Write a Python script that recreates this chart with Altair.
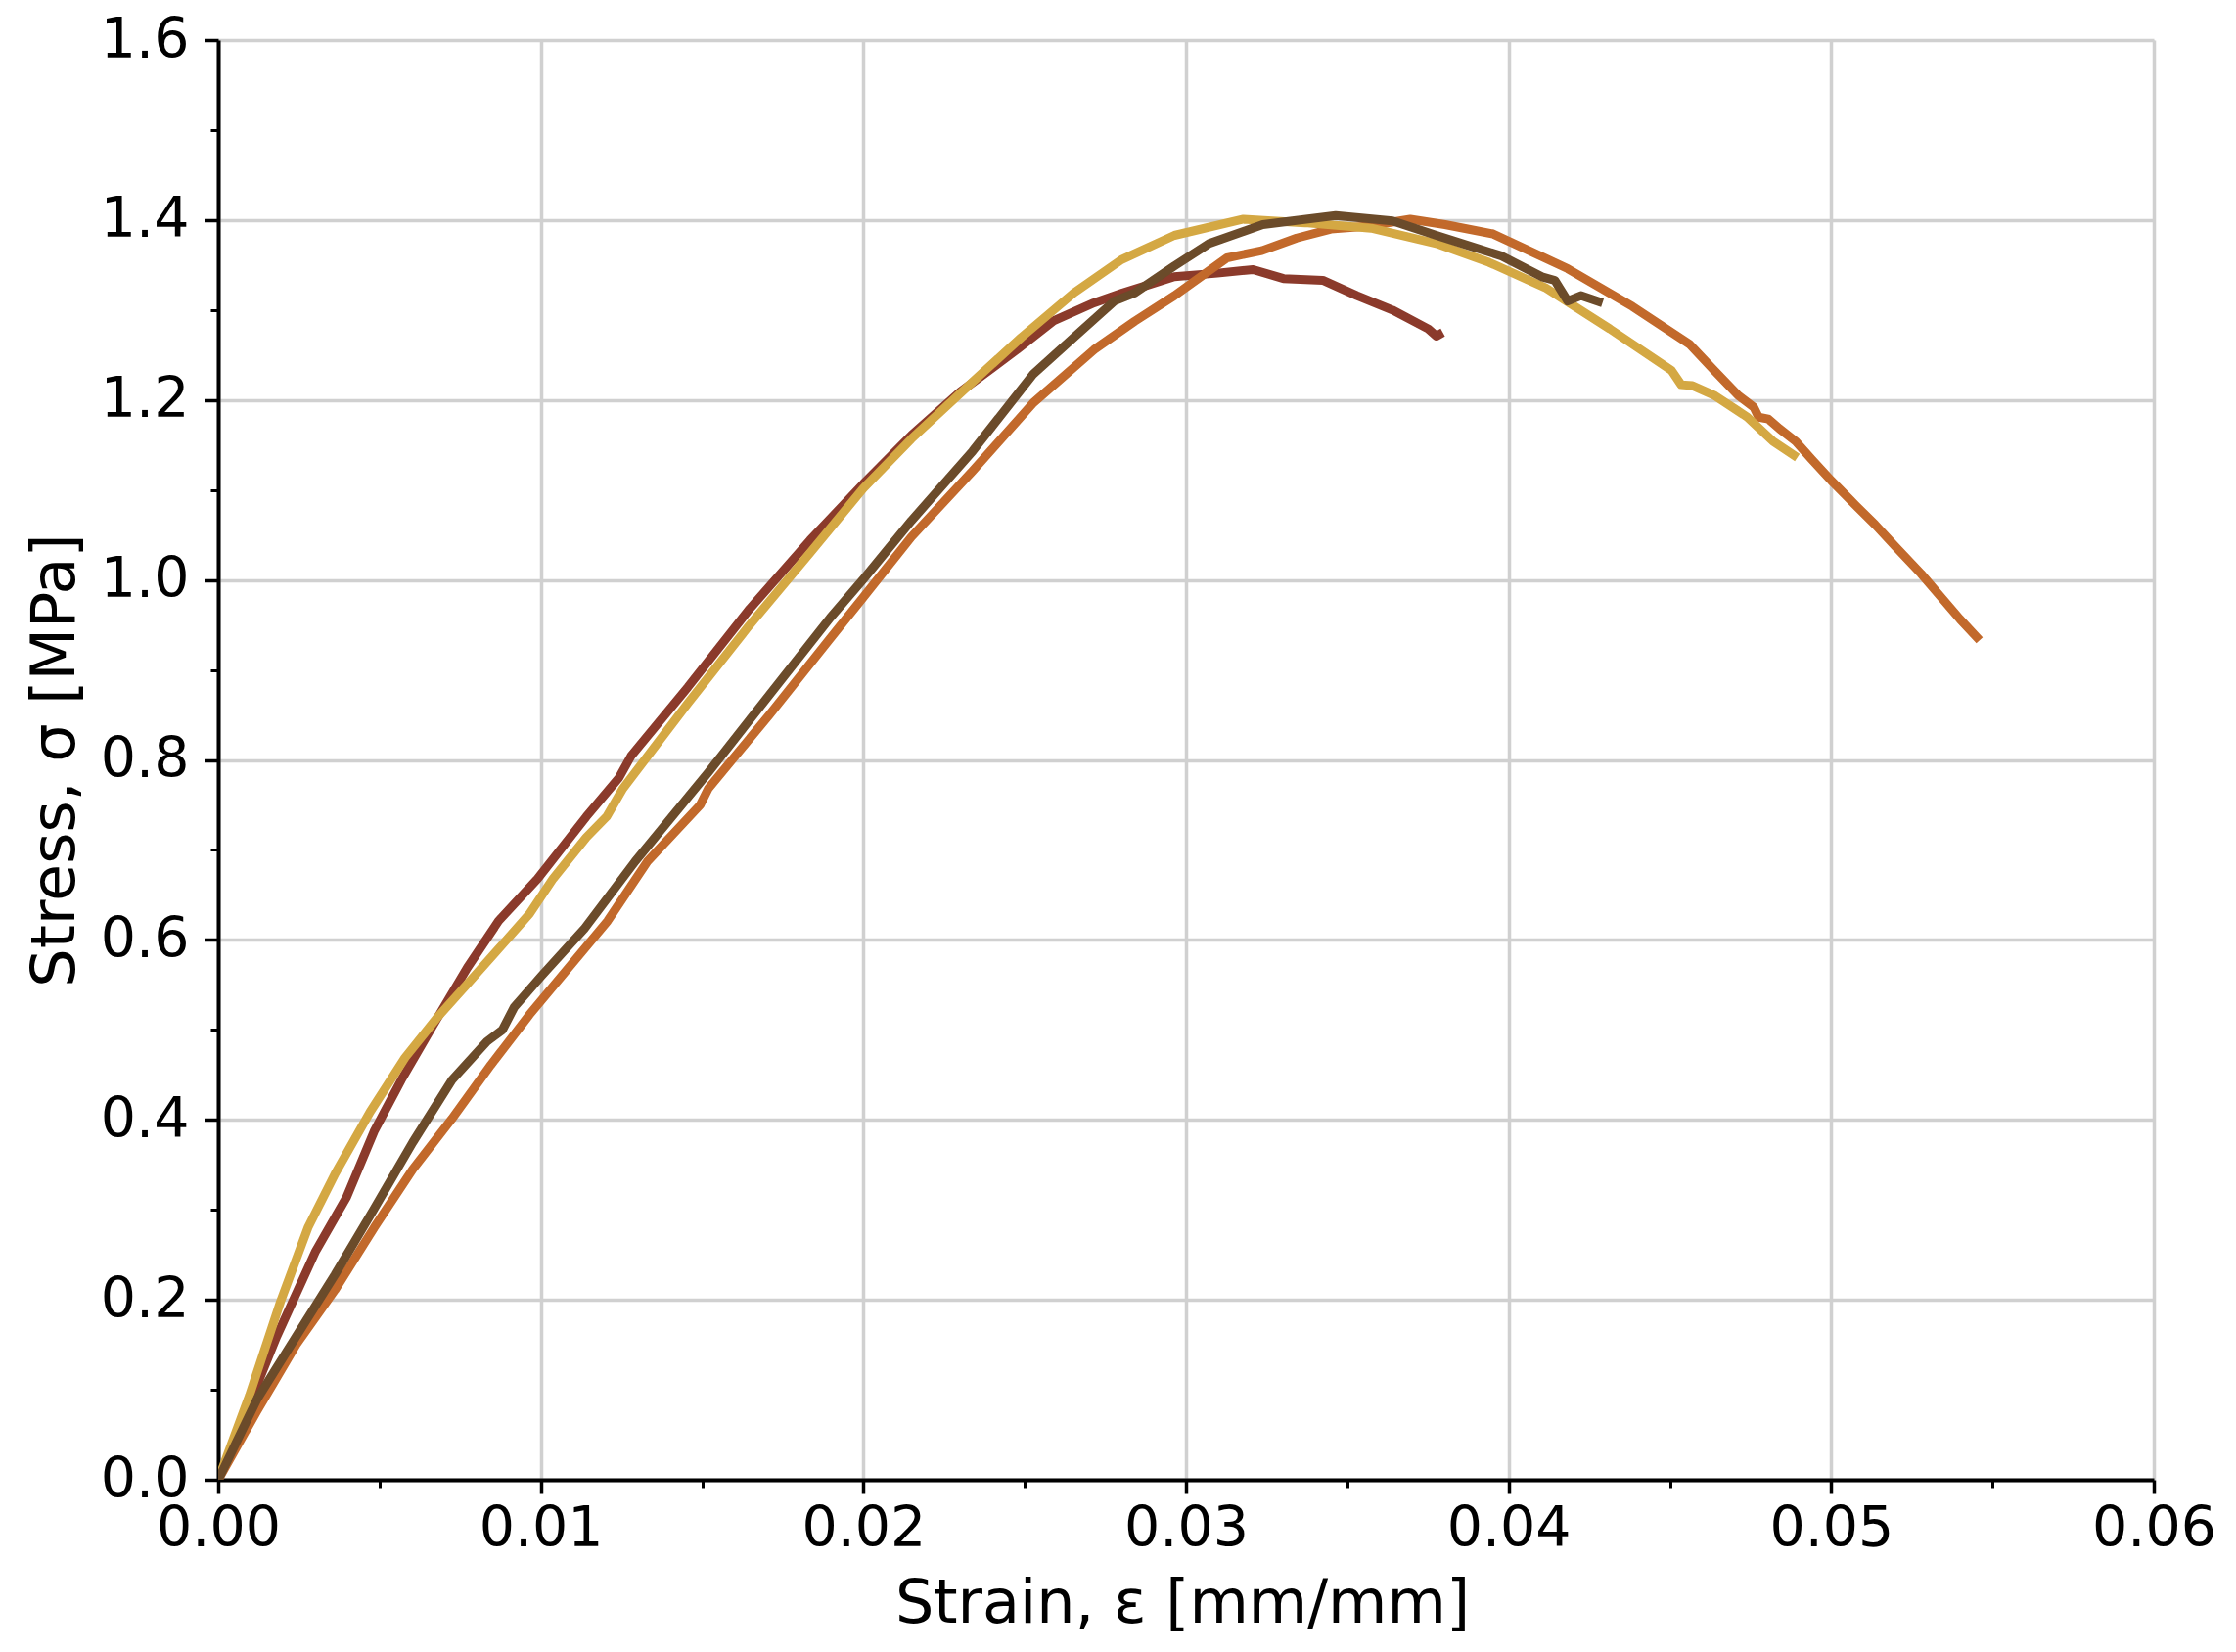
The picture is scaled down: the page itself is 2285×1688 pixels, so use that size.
import altair as alt
import pandas as pd

# ---- data ----
red_strain = [0, 0.00084, 0.00181, 0.00302, 0.00398, 0.00483, 0.00567, 0.00664, 0.00772, 0.00869,
              0.0099, 0.0106, 0.01141, 0.01242, 0.0128, 0.01456, 0.01645, 0.01834, 0.02, 0.02149,
              0.0230, 0.02476, 0.02589, 0.02715, 0.02804, 0.02964, 0.03097, 0.03208, 0.03302, 0.03424,
              0.0353, 0.0364, 0.03751, 0.03776, 0.03796]
red_stress = [0, 0.073, 0.159, 0.254, 0.314, 0.387, 0.444, 0.504, 0.569, 0.621,
              0.668, 0.700, 0.737, 0.780, 0.8045, 0.881, 0.967, 1.044, 1.107, 1.161,
              1.209, 1.256, 1.288, 1.308, 1.319, 1.337, 1.341, 1.345, 1.335, 1.333,
              1.316, 1.300, 1.279, 1.271, 1.275]

orange_strain = [0, 0.00121, 0.00241, 0.00362, 0.00483, 0.00603, 0.00724, 0.00845, 0.00965, 0.01086,
                 0.01207, 0.0133, 0.01494, 0.01519, 0.01708, 0.01897, 0.02, 0.02149, 0.02338, 0.02527,
                 0.02715, 0.02841, 0.02964, 0.03127, 0.03235, 0.03343, 0.03449, 0.03558, 0.03695, 0.03803,
                 0.03952, 0.04183, 0.04384, 0.04561, 0.04640, 0.04712, 0.04760, 0.04775, 0.04805, 0.04840,
                 0.04890, 0.04940, 0.05, 0.05075, 0.05136, 0.05197, 0.05278, 0.05338, 0.05399, 0.05460]
orange_stress = [0, 0.077, 0.150, 0.211, 0.280, 0.345, 0.401, 0.461, 0.517, 0.569,
                 0.621, 0.687, 0.750, 0.768, 0.850, 0.935, 0.981, 1.048, 1.121, 1.197,
                 1.256, 1.2876, 1.316, 1.358, 1.366, 1.380, 1.390, 1.393, 1.401, 1.395,
                 1.3846, 1.346, 1.304, 1.262, 1.232, 1.205, 1.192, 1.181, 1.179, 1.168,
                 1.154, 1.134, 1.1105, 1.0833, 1.0616, 1.038, 1.0072, 0.982, 0.9565, 0.933]

yellow_strain = [0, 0.00097, 0.00193, 0.00278, 0.00362, 0.00471, 0.00579, 0.00676, 0.00772, 0.00869,
                 0.00965, 0.01038, 0.01141, 0.01204, 0.01254, 0.01456, 0.01645, 0.01834, 0.02, 0.02149,
                 0.02338, 0.02489, 0.02652, 0.028, 0.02964, 0.03178, 0.03369, 0.03574, 0.03776, 0.03939,
                 0.04113, 0.04314, 0.04505, 0.04535, 0.0457, 0.04640, 0.04740, 0.04820, 0.04895]
yellow_stress = [0, 0.094, 0.198, 0.280, 0.340, 0.409, 0.469, 0.5125, 0.551, 0.590,
                 0.629, 0.668, 0.714, 0.737, 0.768, 0.863, 0.949, 1.030, 1.102, 1.157,
                 1.220, 1.2695, 1.319, 1.356, 1.383, 1.401, 1.397, 1.391, 1.374, 1.353,
                 1.325, 1.279, 1.233, 1.217, 1.216, 1.2047, 1.181, 1.154, 1.136]

brown_strain = [0, 0.00121, 0.00241, 0.00362, 0.00483, 0.00603, 0.00724, 0.00833, 0.00881, 0.00917,
                0.01002, 0.01134, 0.01292, 0.01519, 0.01708, 0.01897, 0.02, 0.02149, 0.02338, 0.02527,
                0.02652, 0.02778, 0.02841, 0.02964, 0.03072, 0.03238, 0.03464, 0.0364, 0.03776, 0.03979,
                0.04103, 0.04143, 0.04183, 0.04224, 0.04291]
brown_stress = [0, 0.090, 0.159, 0.228, 0.301, 0.375, 0.444, 0.487, 0.500, 0.525,
                0.560, 0.612, 0.687, 0.786, 0.872, 0.958, 1.001, 1.066, 1.143, 1.229,
                1.2695, 1.310, 1.319, 1.349, 1.374, 1.395, 1.405, 1.399, 1.383, 1.360,
                1.337, 1.333, 1.310, 1.316, 1.308]

series_names = ["S1", "S2", "S3", "S4"]
series_colors = ["#8B3A2B", "#C2692B", "#D4A843", "#6B4B2A"]

x_major = [0.00, 0.01, 0.02, 0.03, 0.04, 0.05, 0.06]
x_minor = [0.005, 0.015, 0.025, 0.035, 0.045, 0.055]
y_major = [0.0, 0.2, 0.4, 0.6, 0.8, 1.0, 1.2, 1.4, 1.6]
y_minor = [0.1, 0.3, 0.5, 0.7, 0.9, 1.1, 1.3, 1.5]

# ---- build table ----
rows = []
for name, xs, ys in zip(series_names,
                        [red_strain, orange_strain, yellow_strain, brown_strain],
                        [red_stress, orange_stress, yellow_stress, brown_stress]):
    for i, (xv, yv) in enumerate(zip(xs, ys)):
        rows.append({"strain": xv, "stress": yv, "specimen": name, "idx": i})
df = pd.DataFrame(rows)

FONT = "DejaVu Sans"
W, H = 1978, 1471
xscale = alt.Scale(domain=[0, 0.06], nice=False, zero=False)
yscale = alt.Scale(domain=[0, 1.6], nice=False, zero=False)

common_axis = dict(
    labelFont=FONT, labelFontSize=57, labelColor="black",
    titleFont=FONT, titleFontSize=62, titleFontWeight="normal", titleColor="black",
    tickColor="black", tickWidth=3.5, domainColor="black", domainWidth=4,
)

x_axis = alt.Axis(
    orient="bottom", values=x_major, format=".2f", tickSize=14, labelPadding=8,
    grid=True, gridColor="#d0d0d0", gridWidth=3.5,
    title="Strain, ε [mm/mm]", titleX=985, titleY=145, titleAlign="center",
    titleBaseline="alphabetic", labelFlush=False, labelOverlap=False, **common_axis,
)
y_axis = alt.Axis(
    orient="left", values=y_major, format=".1f", tickSize=14, labelPadding=16,
    grid=True, gridColor="#d0d0d0", gridWidth=3.5,
    title="Stress, σ [MPa]", titleX=-148, titleY=H / 2, titleAngle=270, titleAlign="center",
    titleBaseline="alphabetic", labelFlush=False, labelOverlap=False, **common_axis,
)

x_minor_axis = alt.Axis(
    orient="bottom", values=x_minor, labels=False, grid=False, domain=False,
    tickSize=8, tickWidth=3, tickColor="black", title=None,
)
y_minor_axis = alt.Axis(
    orient="left", values=y_minor, labels=False, grid=False, domain=False,
    tickSize=8, tickWidth=3, tickColor="black", title=None,
)

lines = alt.Chart(df).mark_line(strokeWidth=9, strokeJoin="round", strokeCap="butt", clip=True).encode(
    x=alt.X("strain:Q", scale=xscale, axis=x_axis),
    y=alt.Y("stress:Q", scale=yscale, axis=y_axis),
    color=alt.Color("specimen:N", scale=alt.Scale(domain=series_names, range=series_colors), legend=None),
    order=alt.Order("idx:Q"),
)

minor = alt.Chart(df).mark_line(strokeOpacity=0).encode(
    x=alt.X("strain:Q", scale=xscale, axis=x_minor_axis),
    y=alt.Y("stress:Q", scale=yscale, axis=y_minor_axis),
    detail="specimen:N",
)

chart = alt.layer(lines, minor).resolve_axis(x="independent", y="independent").properties(
    width=W, height=H,
    autosize=alt.AutoSizeParams(type="none"),
    padding={"left": 215, "top": 33, "right": 76, "bottom": 168},
).configure_view(stroke="black", strokeWidth=4).configure(background="white")

chart.save("out.html", embed_options={"renderer": "svg", "actions": False})
